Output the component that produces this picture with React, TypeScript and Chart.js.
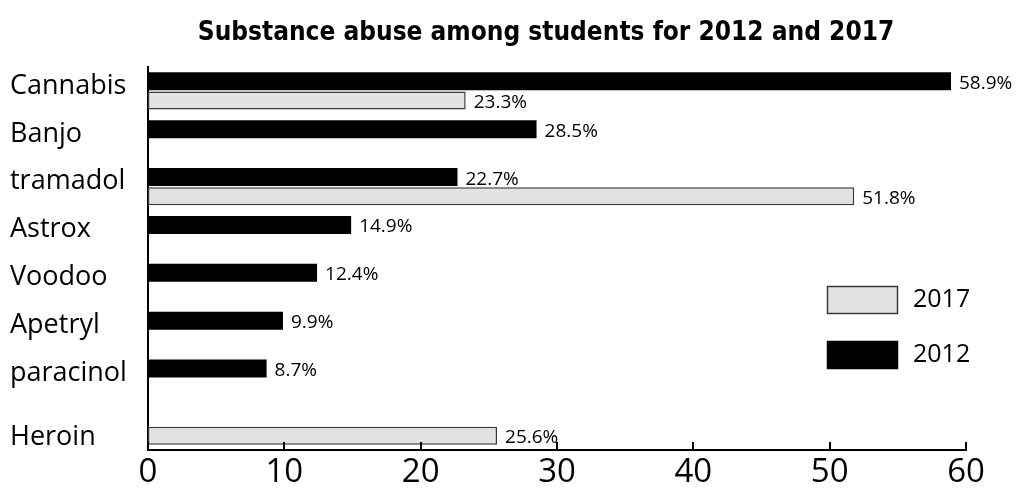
import React, { useEffect, useRef } from "react";
import { Chart, registerables } from "chart.js";

Chart.register(...registerables);

const categories = ["Cannabis", "Banjo", "tramadol", "Astrox", "Voodoo", "Apetryl", "paracinol", "Heroin"];
const values2012: (number | null)[] = [58.9, 28.5, 22.7, 14.9, 12.4, 9.9, 8.7, null];
const values2017: (number | null)[] = [23.3, null, 51.8, null, null, null, null, 25.6];
const seriesNames = ["2012", "2017"];
const xTicks = [0, 10, 20, 30, 40, 50, 60];
const titleText = "Substance abuse among students for 2012 and 2017";

const FONT = "'Open Sans', 'Noto Sans', sans-serif";

const titlePlugin = {
  id: "customTitle",
  afterDraw(chart: any) {
    const ctx = chart.ctx;
    ctx.save();
    ctx.font = "bold 26px 'Liberation Sans Narrow', 'DejaVu Sans Condensed', sans-serif";
    ctx.fillStyle = "#000";
    ctx.textAlign = "center";
    ctx.textBaseline = "middle";
    ctx.fillText(titleText, 546, 33);
    ctx.restore();
  },
};

const barLabelPlugin = {
  id: "barLabels",
  afterDatasetsDraw(chart: any) {
    const ctx = chart.ctx;
    ctx.save();
    ctx.font = `19px ${FONT}`;
    ctx.fillStyle = "#000";
    ctx.textAlign = "left";
    ctx.textBaseline = "middle";
    chart.data.datasets.forEach((ds: any, di: number) => {
      const meta = chart.getDatasetMeta(di);
      meta.data.forEach((el: any, i: number) => {
        const v = ds.data[i];
        if (v === null || v === undefined) return;
        ctx.fillText(`${v}%`, el.x + 8, el.y + 2);
      });
    });
    ctx.restore();
  },
};

const axisTickPlugin = {
  id: "innerTicks",
  afterDraw(chart: any) {
    const ctx = chart.ctx;
    const xs = chart.scales.x;
    const bottom = chart.chartArea.bottom;
    ctx.save();
    ctx.strokeStyle = "#000";
    ctx.lineWidth = 2;
    xTicks.forEach((t) => {
      const px = Math.round(xs.getPixelForValue(t));
      ctx.beginPath();
      ctx.moveTo(px, bottom);
      ctx.lineTo(px, bottom - 8);
      ctx.stroke();
    });
    ctx.restore();
  },
};

const legendPlugin = {
  id: "customLegend",
  afterDraw(chart: any) {
    const ctx = chart.ctx;
    const ca = chart.chartArea;
    const order = [1, 0];
    ctx.save();
    order.forEach((di, k) => {
      const ds = chart.data.datasets[di];
      const x = ca.left + 679;
      const y = ca.top + 219 + k * 55;
      ctx.fillStyle = ds.backgroundColor;
      ctx.fillRect(x, y, 71, 28);
      ctx.strokeStyle = ds.borderColor;
      ctx.lineWidth = 1.5;
      ctx.strokeRect(x + 0.5, y + 0.5, 70, 27);
      ctx.fillStyle = "#000";
      ctx.font = `25px ${FONT}`;
      ctx.textAlign = "left";
      ctx.textBaseline = "middle";
      ctx.fillText(ds.label, x + 86, y + 14);
    });
    ctx.restore();
  },
};

export default function App() {
  const ref = useRef<HTMLCanvasElement | null>(null);
  useEffect(() => {
    if (!ref.current) return;
    const chart = new Chart(ref.current, {
      type: "bar",
      data: {
        labels: categories.map((c, i) => (i === categories.length - 1 ? ["", c] : c)),
        datasets: [
          {
            label: seriesNames[0],
            data: values2012,
            backgroundColor: "#000000",
            borderColor: "#000000",
            borderWidth: 0,
            categoryPercentage: 0.8,
            barPercentage: 0.94,
          },
          {
            label: seriesNames[1],
            data: values2017,
            backgroundColor: "#e1e2e4",
            borderColor: "#3a3a3a",
            borderWidth: 1.5,
            borderSkipped: false,
            categoryPercentage: 0.8,
            barPercentage: 0.94,
          },
        ],
      },
      options: {
        indexAxis: "y",
        animation: false,
        responsive: true,
        maintainAspectRatio: false,
        layout: { padding: { left: 10, right: 59, top: 67, bottom: 0 } },
        plugins: {
          legend: { display: false },
          tooltip: { enabled: false },
          title: { display: false },
        },
        scales: {
          x: {
            type: "linear",
            min: 0,
            max: 60,
            ticks: { stepSize: 10, color: "#000", font: { family: FONT, size: 33 }, padding: 3 },
            grid: { display: false, drawTicks: false },
            border: { display: true, color: "#000", width: 2 },
            afterFit(scale: any) {
              scale.height = 38;
            },
          },
          y: {
            type: "category",
            ticks: {
              color: "#000",
              font: { family: FONT, size: 27 },
              crossAlign: "far",
              labelOffset: -5,
              autoSkip: false,
            },
            grid: { display: false, drawTicks: false },
            border: { display: true, color: "#000", width: 2 },
            afterFit(scale: any) {
              scale.width = 138;
            },
          },
        },
      },
      plugins: [barLabelPlugin, axisTickPlugin, legendPlugin, titlePlugin],
    } as any);
    return () => chart.destroy();
  }, []);
  return (
    <div style={{ position: "fixed", left: 0, top: 0, width: 1025, height: 488, background: "#fff" }}>
      <canvas ref={ref} />
    </div>
  );
}
